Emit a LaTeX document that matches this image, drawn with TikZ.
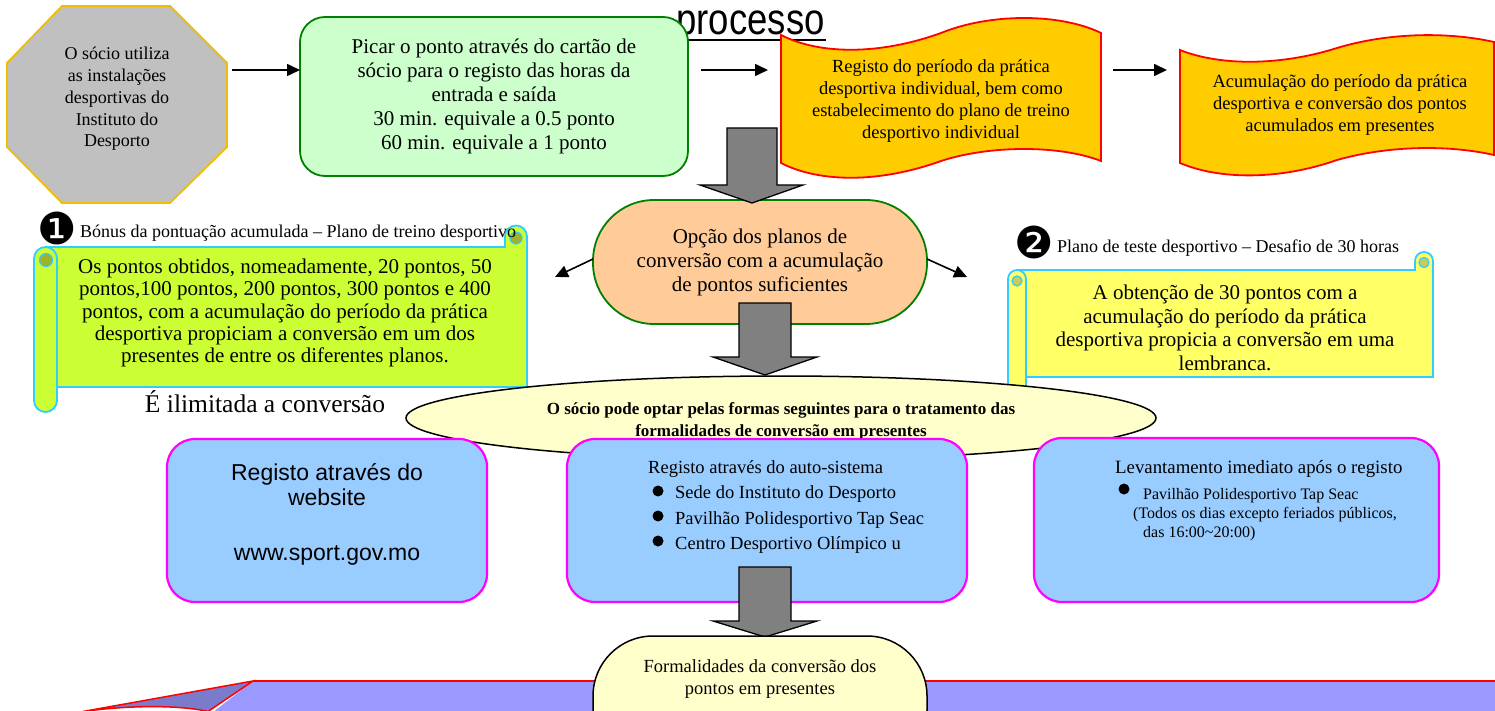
\documentclass[tikz,border=0pt]{standalone}
\usepackage{fontspec}
\setmainfont{Liberation Serif}
\newfontfamily\arialf{Liberation Sans}
\newfontfamily\dejavu{DejaVu Sans}
\usetikzlibrary{arrows.meta,shapes.geometric}
\definecolor{octfill}{HTML}{C0C0C0}
\definecolor{octdraw}{RGB}{240,190,0}
\definecolor{gfill}{HTML}{CCFFCC}
\definecolor{gdraw}{HTML}{008000}
\definecolor{wfill}{HTML}{FFCC00}
\definecolor{limef}{HTML}{CCFF33}
\definecolor{scyan}{HTML}{33CCFF}
\definecolor{olivea}{RGB}{160,178,40}
\definecolor{yelf}{HTML}{FFFF66}
\definecolor{oliveb}{RGB}{204,204,82}
\definecolor{ofill}{HTML}{FFCC99}
\definecolor{efill}{HTML}{FFFFCC}
\definecolor{bfill}{HTML}{99CCFF}
\definecolor{bmag}{HTML}{FF00FF}
\definecolor{arrgray}{HTML}{808080}
\definecolor{bandc}{HTML}{9999FF}
\definecolor{banddark}{RGB}{123,123,204}
\newcommand\fsz[2]{\fontsize{#1}{#2}\selectfont}
\begin{document}
\begin{tikzpicture}[x=1pt,y=-1pt,
  txt/.style={inner sep=0pt, align=center, text=black},
  smallarrow/.style={line width=1.6pt, -{Triangle[length=13pt,width=12pt]}},
  blockarrow/.style={fill=arrgray, draw=black, line width=1.3pt, line join=miter},
  bluebox/.style={draw=bmag, fill=bfill, line width=2.2pt, rounded corners=28pt, minimum height=163pt, inner sep=0pt},
  wavebox/.style={fill=wfill, draw=red, line width=1.8pt},
  scrollA/.style={fill=limef, draw=scyan, line width=1.8pt},
  scrollB/.style={fill=yelf, draw=scyan, line width=1.8pt},
  bullet/.style={circle, fill=black, inner sep=0pt, minimum size=11pt},
  nummark/.style={inner sep=0pt, font=\dejavu\fsz{44}{46}},
]
\clip (0,0) rectangle (1495,711);
\fill[white] (0,0) rectangle (1495,711);

% title
\node[inner sep=0pt, anchor=base, font=\arialf\fsz{44}{48}] (title) at (750.5,35) {\scalebox{0.83}[1]{processo}};
\draw[line width=2.5pt] (675,40) -- (826,40);

% octagon
\filldraw[fill=octfill, draw=octdraw, line width=1.8pt] (62,6)--(170,6)--(227,63)--(227,147)--(170,203)--(62,203)--(7,147)--(7,63)--cycle;
\node[txt, font=\fsz{18}{21.7}] (oct) at (117,99) {O sócio utiliza\\as instalações\\desportivas do\\Instituto do\\Desporto};

% green box
\node[draw=gdraw, fill=gfill, line width=1.8pt, rounded corners=25pt, minimum width=388pt, minimum height=159pt, inner sep=0pt, align=center, font=\fsz{21}{24}] (pic) at (494,96.5) {Picar o ponto através do cartão de\\sócio para o registo das horas da\\entrada e saída\\30 min. equivale a 0.5 ponto\\60 min. equivale a 1 ponto};

% wave boxes
\filldraw[wavebox] (781,35) .. controls (820,55) and (880,55) .. (941,33) .. controls (990,13) and (1060,13) .. (1101,33) -- (1101,161) .. controls (1060,145) and (990,145) .. (941,161) .. controls (880,183) and (820,183) .. (781,163) -- cycle;
\node[txt, font=\fsz{18.5}{21.7}] (reg) at (941,101) {Registo do período da prática\\desportiva individual, bem como\\estabelecimento do plano de treino\\desportivo individual};
\filldraw[wavebox] (1180,50) .. controls (1220,66) and (1280,66) .. (1337,48) .. controls (1390,32) and (1450,32) .. (1494,42) -- (1494,155) .. controls (1450,145) and (1390,145) .. (1337,160) .. controls (1280,180) and (1220,180) .. (1180,163) -- cycle;
\node[txt, font=\fsz{18.5}{21.7}] (acu) at (1340,105) {Acumulação do período da prática\\desportiva e conversão dos pontos\\acumulados em presentes};

% small arrows top row
\coordinate (a1s) at (232,70); \coordinate (a1e) at (300,70);
\coordinate (a2s) at (701,70); \coordinate (a2e) at (768,70);
\coordinate (a3s) at (1113,70); \coordinate (a3e) at (1167,70);
\draw[smallarrow] (a1s) -- (a1e);
\draw[smallarrow] (a2s) -- (a2e);
\draw[smallarrow] (a3s) -- (a3e);

% scroll 1
\filldraw[scrollA] (46,247) -- (505,247) -- (505,236.5) arc[start angle=180, end angle=360, radius=11] -- (527,387) -- (46,387) -- cycle;
\filldraw[fill=olivea, draw=scyan, line width=1.2pt] (516,238) circle[radius=6];
\filldraw[scrollA] (34,258.5) -- (34,400.5) arc[start angle=180, end angle=0, radius=11.5] -- (57,258.5) arc[start angle=0, end angle=-180, radius=11.5] -- cycle;
\filldraw[fill=olivea, draw=scyan, line width=1.2pt] (46,260) circle[radius=6.5];
\node[nummark] (n1) at (57.5,228) {❶};
\node[inner sep=0pt, anchor=base west, font=\fsz{18}{20}] (h1) at (80,238) {Bónus da pontuação acumulada – Plano de treino desportivo};
\node[txt, font=\fsz{21}{22.3}] (s1) at (285,313) {Os pontos obtidos, nomeadamente, 20 pontos, 50\\pontos,100 pontos, 200 pontos, 300 pontos e 400\\pontos, com a acumulação do período da prática\\desportiva propiciam a conversão em um dos\\presentes de entre os diferentes planos.};
\node[inner sep=0pt, font=\fsz{25.5}{28}] (ilim) at (265,402) {É ilimitada a conversão};

% scroll 2
\filldraw[scrollB] (1017,270) -- (1415,270) -- (1415,261) arc[start angle=180, end angle=360, radius=9] -- (1433,377) -- (1017,377) -- cycle;
\filldraw[fill=oliveb, draw=scyan, line width=1.2pt] (1424,262.5) circle[radius=5];
\filldraw[scrollB] (1008,279) -- (1008,385) arc[start angle=180, end angle=0, radius=9] -- (1026,279) arc[start angle=0, end angle=-180, radius=9] -- cycle;
\filldraw[fill=oliveb, draw=scyan, line width=1.2pt] (1017,281) circle[radius=5];
\node[nummark] (n2) at (1034,242) {❷};
\node[inner sep=0pt, anchor=base west, font=\fsz{18}{20}] (h2) at (1057,252) {Plano de teste desportivo – Desafio de 30 horas};
\node[txt, font=\fsz{21}{23.7}] (s2) at (1225,328) {A obtenção de 30 pontos com a\\acumulação do período da prática\\desportiva propicia a conversão em uma\\lembranca.};

% orange option node
\node[draw=gdraw, fill=ofill, line width=1.8pt, rounded corners=61pt, minimum width=334pt, minimum height=124pt, inner sep=0pt, align=center, font=\fsz{21}{24}] (opt) at (760,262) {Opção dos planos de\\conversão com a acumulação\\de pontos suficientes};
\coordinate (la) at (593,259); \coordinate (lb) at (555,277);
\coordinate (ra) at (927,259); \coordinate (rb) at (967,277);
\draw[smallarrow] (la) -- (lb);
\draw[smallarrow] (ra) -- (rb);

% block arrows 1 and 2
\filldraw[blockarrow] (727,128)--(777,128)--(777,185)--(803,185)--(752,203)--(700,185)--(727,185)--cycle;
\filldraw[blockarrow] (739,303)--(791,303)--(791,357)--(817,357)--(765,375)--(713,357)--(739,357)--cycle;

% ellipse
\node[draw=black, fill=efill, line width=1.5pt, ellipse, minimum width=750pt, minimum height=84pt, inner sep=0pt] (ell) at (781,418) {};
\node[txt, font=\bfseries\fsz{17}{22}] (elltxt) at (781,421) {O sócio pode optar pelas formas seguintes para o tratamento das\\formalidades de conversão em presentes};

% blue boxes
\node[bluebox, minimum width=320pt] (web) at (327,520.5) {};
\node[inner sep=0pt, anchor=base, font=\arialf\fsz{23}{25}] (web1) at (327,480) {Registo através do};
\node[inner sep=0pt, anchor=base, font=\arialf\fsz{23}{25}] (web2) at (327,505) {website};
\node[inner sep=0pt, anchor=base, font=\arialf\fsz{23}{25}] (web3) at (327,560) {www.sport.gov.mo};

\node[bluebox, minimum width=400pt] (auto) at (767,520.5) {};
\node[inner sep=0pt, anchor=base west, font=\fsz{18.5}{21}] (au0) at (648,473.5) {Registo através do auto-sistema};
\node[bullet] (ab1) at (658,491) {};
\node[bullet] (ab2) at (658,516) {};
\node[bullet] (ab3) at (658,541) {};
\node[inner sep=0pt, anchor=base west, font=\fsz{18.5}{21}] (au1) at (675,498.5) {Sede do Instituto do Desporto};
\node[inner sep=0pt, anchor=base west, font=\fsz{18.5}{21}] (au2) at (675,524.5) {Pavilhão Polidesportivo Tap Seac};
\node[inner sep=0pt, anchor=base west, font=\fsz{18.5}{21}] (au3) at (675,549.5) {Centro Desportivo Olímpico u};

\node[bluebox, minimum width=405pt, minimum height=164pt] (lev) at (1236.5,520) {};
\node[inner sep=0pt, anchor=base west, font=\fsz{18.8}{21}] (lv0) at (1115,473.5) {Levantamento imediato após o registo};
\node[bullet] (lb1) at (1124,489) {};
\node[inner sep=0pt, anchor=base west, font=\fsz{16}{19}] (lv1) at (1143,499) {Pavilhão Polidesportivo Tap Seac};
\node[inner sep=0pt, anchor=base west, font=\fsz{16}{19}] (lv2) at (1133,518) {(Todos os dias excepto feriados públicos,};
\node[inner sep=0pt, anchor=base west, font=\fsz{16}{19}] (lv3) at (1143,537) {das 16:00\textasciitilde20:00)};

% block arrow 3
\filldraw[blockarrow] (739,567)--(791,567)--(791,621)--(817,621)--(765,637)--(713,621)--(739,621)--cycle;

% bottom band
\fill[bandc] (253,681) -- (1500,681) -- (1500,716) -- (208,716) -- cycle;
\draw[red, line width=1.8pt] (253,681) -- (1500,681);
\filldraw[fill=banddark, draw=red, line width=1.5pt] (253,681) -- (83,711.5) .. controls (130,705) and (180,705) .. (208,711.5) -- cycle;

% bottom pill
\filldraw[fill=efill, draw=black, line width=1.5pt, rounded corners=60pt] (593,636) rectangle (927,770);
\node[txt, font=\fsz{18.5}{22}] (form) at (760,679) {Formalidades da conversão dos\\pontos em presentes};
\end{tikzpicture}
\end{document}
